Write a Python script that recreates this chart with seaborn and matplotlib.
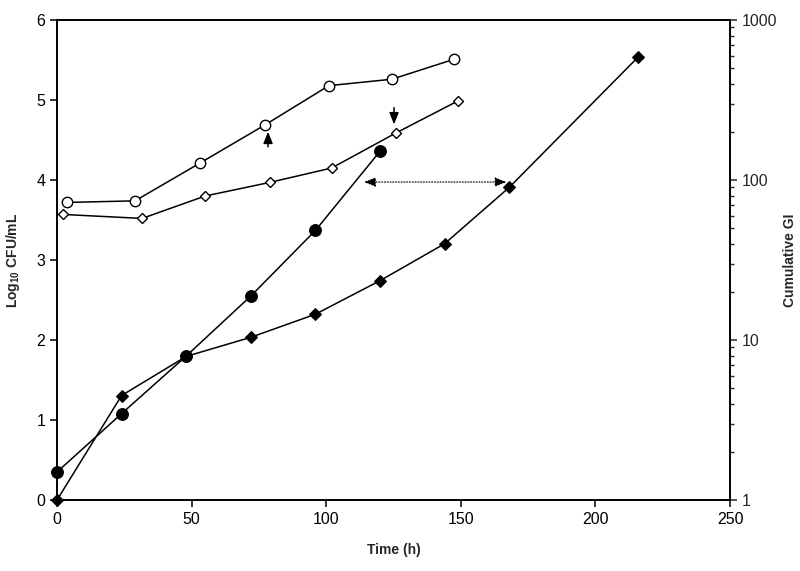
import numpy as np
import pandas as pd
import matplotlib
matplotlib.use("Agg")
import matplotlib.pyplot as plt
import seaborn as sns

# open circles (left axis)
t_oc = [3.7, 29, 53, 77.3, 101, 124.4, 147.5]
cfu_oc = [3.72, 3.74, 4.21, 4.69, 5.18, 5.26, 5.51]
# open diamonds (left axis)
t_od = [2.2, 31.6, 55, 79, 102, 126, 149]
cfu_od = [3.57, 3.52, 3.80, 3.97, 4.15, 4.59, 4.99]
# filled circles (left axis)
t_fc = [0, 24, 48, 72, 96, 120]
cfu_fc = [0.35, 1.08, 1.80, 2.55, 3.37, 4.36]
# filled diamonds, cumulative GI (right log axis)
t_fd = [0, 24, 48, 72, 96, 120, 144, 168, 216]
gi_fd = [1, 4.5, 7.9, 10.4, 14.5, 23.5, 40, 90, 590]

sns.set_style("ticks")
plt.rcParams["font.family"] = ["Liberation Sans", "DejaVu Sans"]
plt.rcParams["mathtext.fontset"] = "custom"
plt.rcParams["mathtext.rm"] = "Liberation Sans"
plt.rcParams["mathtext.bf"] = "Liberation Sans:bold"

fig = plt.figure(figsize=(8, 5.71), dpi=100)
ax = fig.add_axes([0.07125, 0.1243, 0.84125, 0.8406])
ax2 = ax.twinx()

lw = 1.1
sns.lineplot(x=t_oc, y=cfu_oc, ax=ax, color="black", lw=lw, marker="o", ms=7.5,
             mfc="white", mec="black", mew=1.0, clip_on=False, zorder=3)
sns.lineplot(x=t_od, y=cfu_od, ax=ax, color="black", lw=lw, marker="D", ms=5.5,
             mfc="white", mec="black", mew=1.0, clip_on=False, zorder=3)
sns.lineplot(x=t_fc, y=cfu_fc, ax=ax, color="black", lw=lw, marker="o", ms=8.5,
             mfc="black", mec="black", clip_on=False, zorder=3)
sns.lineplot(x=t_fd, y=gi_fd, ax=ax2, color="black", lw=lw, marker="D", ms=6,
             mfc="black", mec="black", clip_on=False, zorder=3)

ax.set_xlim(0, 250)
ax.set_ylim(0, 6)
ax.set_xticks([0, 50, 100, 150, 200, 250])
ax.set_yticks([0, 1, 2, 3, 4, 5, 6])
ax2.set_yscale("log")
ax2.set_ylim(1, 1000)
ax2.set_yticks([1, 10, 100, 1000])
ax2.set_yticklabels(["1", "10", "100", "1000"])

for a in (ax, ax2):
    for s in a.spines.values():
        s.set_linewidth(1.2)
        s.set_color("black")
ax.tick_params(axis="both", labelsize=11.5, length=5, width=1.1, colors="black")
ax2.tick_params(axis="y", which="major", labelsize=11.5, length=5, width=1.1)
ax2.tick_params(axis="y", which="minor", length=3, width=1.0)

ax.set_xlabel("Time (h)", fontsize=10, fontweight="bold", labelpad=12)
ax.set_ylabel(r"Log$_{\mathbf{10}}$ CFU/mL", fontsize=10, fontweight="bold", labelpad=10)
ax2.set_ylabel("Cumulative GI", fontsize=10, fontweight="bold", labelpad=4)

# arrows
arr = dict(arrowstyle="-|>,head_length=0.5,head_width=0.2", color="black", lw=1.1,
           mutation_scale=14)
ax.annotate("", xy=(78.4, 4.64), xytext=(78.4, 4.38), arrowprops=arr)
ax.annotate("", xy=(125.2, 4.66), xytext=(125.2, 4.94), arrowprops=arr)
ax.annotate("", xy=(113, 3.975), xytext=(168, 3.975),
            arrowprops=dict(arrowstyle="<|-|>,head_length=0.5,head_width=0.2", color="black",
                            lw=0.8, ls=(0, (1, 1.5)), mutation_scale=14))

fig.savefig("out.png", dpi=100)
